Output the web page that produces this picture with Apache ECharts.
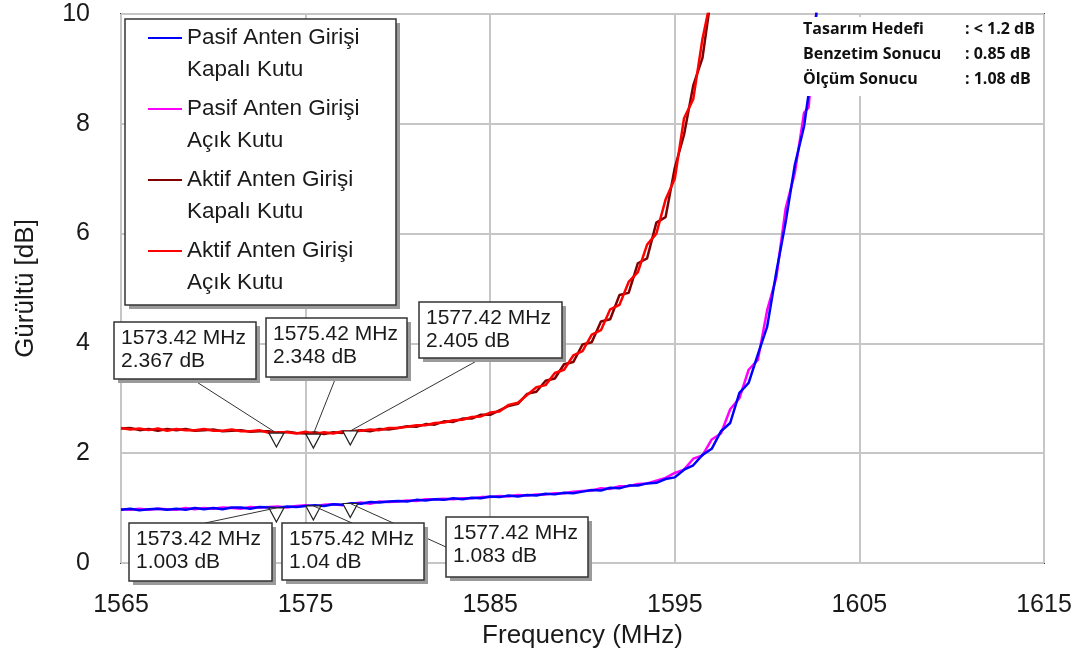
<!DOCTYPE html>
<html>
<head>
<meta charset="utf-8">
<script src="https://cdn.jsdelivr.net/npm/echarts@6/dist/echarts.min.js"></script>
<style>
  html, body { margin: 0; padding: 0; background: #fff; }
  #chart { width: 1078px; height: 662px; }
</style>
</head>
<body>
<div id="chart"></div>
<script>
// frekans noktalari (MHz)
var freq = [
  1565, 1565.5, 1566, 1566.5, 1567, 1567.5, 1568, 1568.5, 1569, 1569.5,
  1570, 1570.5, 1571, 1571.5, 1572, 1572.5, 1573, 1573.5, 1574, 1574.5,
  1575, 1575.5, 1576, 1576.5, 1577, 1577.5, 1578, 1578.5, 1579, 1579.5,
  1580, 1580.5, 1581, 1581.5, 1582, 1582.5, 1583, 1583.5, 1584, 1584.5,
  1585, 1585.5, 1586, 1586.5, 1587, 1587.5, 1588, 1588.5, 1589, 1589.5,
  1590, 1590.5, 1591, 1591.5, 1592, 1592.5, 1593, 1593.5, 1594, 1594.5,
  1595, 1595.5, 1596, 1596.5, 1597, 1597.5, 1598, 1598.5, 1599, 1599.5,
  1600, 1600.5, 1601, 1601.5, 1602, 1602.25, 1602.5, 1602.75
];

// gurultu (dB)
var pasifKapali = [
  0.97, 0.99, 0.96, 0.98, 0.99, 0.97, 0.99, 0.97, 1.00, 0.98,
  1.00, 0.98, 1.01, 1.01, 0.99, 1.02, 1.01, 1.00, 1.03, 1.02,
  1.04, 1.05, 1.04, 1.07, 1.06, 1.09, 1.08, 1.11, 1.10, 1.12,
  1.13, 1.12, 1.15, 1.14, 1.16, 1.15, 1.18, 1.16, 1.19, 1.18,
  1.21, 1.20, 1.23, 1.21, 1.24, 1.23, 1.26, 1.25, 1.28, 1.27,
  1.30, 1.33, 1.32, 1.37, 1.36, 1.41, 1.41, 1.45, 1.46, 1.53,
  1.56, 1.70, 1.78, 1.97, 2.08, 2.40, 2.55, 3.10, 3.28, 3.80,
  4.30, 5.30, 6.20, 7.25, 7.95, 8.55, 9.35, 10.35
];
var pasifAcik = [
  0.98, 0.97, 0.99, 0.97, 0.99, 0.98, 0.97, 1.00, 0.98, 1.00,
  0.99, 1.01, 1.00, 0.99, 1.02, 1.01, 1.02, 1.03, 1.01, 1.04,
  1.05, 1.03, 1.06, 1.07, 1.05, 1.08, 1.10, 1.08, 1.12, 1.11,
  1.12, 1.14, 1.13, 1.16, 1.16, 1.17, 1.16, 1.18, 1.18, 1.20,
  1.20, 1.22, 1.21, 1.24, 1.23, 1.25, 1.25, 1.27, 1.27, 1.30,
  1.31, 1.32, 1.36, 1.35, 1.40, 1.40, 1.44, 1.45, 1.50, 1.55,
  1.64, 1.70, 1.90, 1.96, 2.25, 2.36, 2.80, 3.00, 3.52, 3.70,
  4.60, 5.20, 6.45, 7.10, 8.20, 8.30, 9.30, 10.40
];
var aktifKapali = [
  2.45, 2.46, 2.42, 2.44, 2.41, 2.44, 2.42, 2.44, 2.41, 2.42,
  2.43, 2.40, 2.41, 2.42, 2.39, 2.40, 2.40, 2.36, 2.39, 2.37,
  2.36, 2.38, 2.35, 2.38, 2.37, 2.40, 2.42, 2.40, 2.44, 2.43,
  2.46, 2.49, 2.48, 2.53, 2.52, 2.58, 2.57, 2.63, 2.63, 2.70,
  2.70, 2.78, 2.86, 2.90, 3.08, 3.12, 3.32, 3.36, 3.62, 3.66,
  3.98, 4.02, 4.40, 4.44, 4.88, 4.92, 5.46, 5.55, 6.20, 6.30,
  7.20, 7.80, 8.70, 9.20, 10.40
];
var aktifAcik = [
  2.46, 2.43, 2.45, 2.42, 2.45, 2.41, 2.44, 2.42, 2.42, 2.44,
  2.41, 2.41, 2.43, 2.40, 2.40, 2.42, 2.37, 2.38, 2.38, 2.36,
  2.39, 2.35, 2.38, 2.36, 2.40, 2.39, 2.41, 2.43, 2.42, 2.46,
  2.46, 2.48, 2.51, 2.51, 2.55, 2.56, 2.60, 2.61, 2.66, 2.67,
  2.74, 2.76, 2.88, 2.92, 3.06, 3.20, 3.24, 3.46, 3.52, 3.78,
  3.86, 4.16, 4.24, 4.62, 4.70, 5.12, 5.30, 5.80, 6.00, 6.62,
  7.00, 8.10, 8.45, 9.55, 10.35
];

// isaretciler
var markerFreq = [1573.42, 1575.42, 1577.42];
var markerAktif = [2.367, 2.348, 2.405];
var markerPasif = [1.003, 1.04, 1.083];

// eksenler
var xMin = 1565, xMax = 1615, xStep = 10;
var yMin = 0, yMax = 10, yStep = 2;

var legendNames = [
  ['Pasif Anten Girişi', 'Kapalı Kutu'],
  ['Pasif Anten Girişi', 'Açık Kutu'],
  ['Aktif Anten Girişi', 'Kapalı Kutu'],
  ['Aktif Anten Girişi', 'Açık Kutu']
];
var colors = ['#0000ff', '#ff00ff', '#800000', '#ff0000'];

var summaryLabels = ['Tasarım Hedefi', 'Benzetim Sonucu', 'Ölçüm Sonucu'];
var summaryValues = [': < 1.2 dB', ': 0.85 dB', ': 1.08 dB'];

var FONT = '"Liberation Sans", Arial, sans-serif';
var BOLDFONT = '"Open Sans", Lato, sans-serif';

function pairs(vals) {
  return vals.map(function (v, i) { return [freq[i], v]; });
}
function markerPairs(vals) {
  return vals.map(function (v, i) { return [markerFreq[i], v]; });
}
function lineSeries(name, vals, color, z) {
  return {
    name: name, type: 'line', data: pairs(vals), symbol: 'none',
    lineStyle: { color: color, width: 2.5 }, itemStyle: { color: color },
    z: z, animation: false
  };
}

var chart = echarts.init(document.getElementById('chart'));
chart.setOption({
  animation: false,
  grid: { left: 121, right: 34, top: 14, bottom: 99, show: true, borderColor: '#3c3c3c', borderWidth: 2 },
  xAxis: {
    type: 'value', min: xMin, max: xMax, interval: xStep,
    name: 'Frequency (MHz)', nameLocation: 'middle', nameGap: 60,
    nameTextStyle: { fontSize: 26, color: '#1a1a1a', fontFamily: FONT },
    axisLine: { show: false }, axisTick: { show: false },
    axisLabel: { fontSize: 25, color: '#1a1a1a', fontFamily: FONT, margin: 30,
      formatter: function (v) { return String(v); } },
    splitLine: { lineStyle: { color: '#c6c6c6', width: 2 } }
  },
  yAxis: {
    type: 'value', min: yMin, max: yMax, interval: yStep,
    name: 'Gürültü [dB]', nameLocation: 'middle', nameGap: 82, nameRotate: 90,
    nameTextStyle: { fontSize: 26, color: '#1a1a1a', fontFamily: FONT },
    axisLine: { show: false }, axisTick: { show: false },
    axisLabel: { fontSize: 25, color: '#1a1a1a', fontFamily: FONT, margin: 31 },
    splitLine: { lineStyle: { color: '#c6c6c6', width: 2 } }
  },
  series: [
    lineSeries(legendNames[1].join(' '), pasifAcik, colors[1], 2),
    lineSeries(legendNames[0].join(' '), pasifKapali, colors[0], 3),
    lineSeries(legendNames[2].join(' '), aktifKapali, colors[2], 2),
    lineSeries(legendNames[3].join(' '), aktifAcik, colors[3], 3),
    {
      name: 'marker', type: 'scatter', z: 6,
      data: markerPairs(markerAktif).concat(markerPairs(markerPasif)),
      symbol: 'triangle', symbolRotate: 180, symbolSize: [15, 14], symbolOffset: [0, 7],
      itemStyle: { color: '#ffffff', borderColor: '#222', borderWidth: 1.2, opacity: 1 }
    }
  ]
});

// kutular ve aciklamalar
var topBoxes = [
  { x: 114, y: 322, w: 142, h: 57, ax: 192, ay: 379 },
  { x: 266, y: 318, w: 141, h: 59, ax: 336, ay: 377 },
  { x: 419, y: 302, w: 143, h: 56, ax: 482, ay: 358 }
];
var bottomBoxes = [
  { x: 129, y: 523, w: 143, h: 58, ax: 205, ay: 523 },
  { x: 282, y: 523, w: 142, h: 57, ax: 352, ay: 523 },
  { x: 446, y: 517, w: 142, h: 60, ax: 446, ay: 547 }
];

var elements = [];
function addBox(b, fx, val) {
  elements.push({ type: 'rect', z: 110, shape: { x: b.x + 4, y: b.y + 4, width: b.w, height: b.h }, style: { fill: '#9a9a9a' } });
  elements.push({ type: 'rect', z: 111, shape: { x: b.x, y: b.y, width: b.w, height: b.h }, style: { fill: '#fff', stroke: '#333', lineWidth: 1.5 } });
  elements.push({
    type: 'text', z: 112, x: b.x + 7, y: b.y + 5,
    style: { text: fx.toFixed(2) + ' MHz\n' + val + ' dB', fontSize: 21, fontFamily: FONT, fill: '#1a1a1a', lineHeight: 23 }
  });
}
function addLeader(b, fx, val) {
  var p = chart.convertToPixel({ gridIndex: 0 }, [fx, val]);
  elements.push({ type: 'line', z: 105, shape: { x1: b.ax, y1: b.ay, x2: p[0], y2: p[1] }, style: { stroke: '#333', lineWidth: 1 } });
}
for (var i = 0; i < 3; i++) {
  addLeader(topBoxes[i], markerFreq[i], markerAktif[i]);
  addLeader(bottomBoxes[i], markerFreq[i], markerPasif[i]);
}
for (var j = 0; j < 3; j++) {
  addBox(topBoxes[j], markerFreq[j], markerAktif[j]);
  addBox(bottomBoxes[j], markerFreq[j], markerPasif[j]);
}

// lejant
elements.push({ type: 'rect', z: 110, shape: { x: 129, y: 23, width: 271, height: 286 }, style: { fill: '#9a9a9a' } });
elements.push({ type: 'rect', z: 111, shape: { x: 125, y: 19, width: 271, height: 286 }, style: { fill: '#fff', stroke: '#333', lineWidth: 1.5 } });
legendNames.forEach(function (n, k) {
  var cy = 38 + 71 * k;
  elements.push({ type: 'line', z: 112, shape: { x1: 148, y1: cy, x2: 182, y2: cy }, style: { stroke: colors[k], lineWidth: 2 } });
  elements.push({
    type: 'text', z: 112, x: 187, y: cy - 16,
    style: { text: n.join('\n'), fontSize: 22.5, fontFamily: FONT, fill: '#1a1a1a', lineHeight: 32 }
  });
});

// ozet kutusu
elements.push({ type: 'rect', z: 110, shape: { x: 793, y: 17, width: 249, height: 79 }, style: { fill: '#fff' } });
summaryLabels.forEach(function (t, k) {
  var ty = 21 + 25 * k;
  elements.push({ type: 'text', z: 112, x: 803, y: ty, style: { text: t, fontSize: 16, fontWeight: 'bold', fontFamily: BOLDFONT, fill: '#111' } });
  elements.push({ type: 'text', z: 112, x: 965, y: ty, style: { text: summaryValues[k], fontSize: 16, fontWeight: 'bold', fontFamily: BOLDFONT, fill: '#111' } });
});

chart.setOption({ graphic: { elements: elements } });
</script>
</body>
</html>
